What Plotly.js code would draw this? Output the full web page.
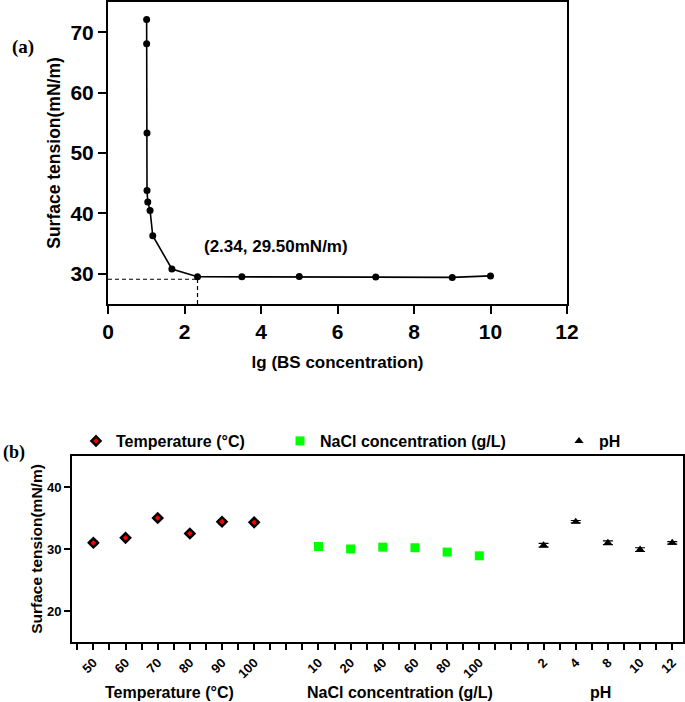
<!DOCTYPE html>
<html>
<head>
<meta charset="utf-8">
<script src="https://cdn.plot.ly/plotly-3.0.1.min.js"></script>
<style>html,body{margin:0;padding:0;background:#fff;}#chart{width:685px;height:702px;}</style>
</head>
<body>
<div id="chart"></div>
<script>
// ---- Panel (a) data ----
const lgConc = [1.01, 1.01, 1.02, 1.02, 1.04, 1.10, 1.17, 1.67, 2.34, 3.5, 5.0, 7.0, 9.0, 10.0];
const tensionA = [72.1, 68.1, 53.3, 43.8, 41.9, 40.5, 36.3, 30.8, 29.5, 29.5, 29.55, 29.45, 29.4, 29.65];
const cmcX = 2.34;
const cmcY = 29.5;
const cmcGuideY = 29.1;
const cmcLabel = "(2.34, 29.50mN/m)";

// ---- Panel (b) data ----
const tempLabels = ["50", "60", "70", "80", "90", "100"];
const tempValues = [31.0, 31.8, 35.0, 32.5, 34.4, 34.3];
const tempErr = [0.3, 0.2, 0.2, 0.2, 0.3, 0.3];

const naclLabels = ["10", "20", "40", "60", "80", "100"];
const naclValues = [30.4, 30.0, 30.3, 30.2, 29.5, 28.9];
const naclErr = [0.3, 0.2, 0.2, 0.2, 0.5, 0.2];

const phLabels = ["2", "4", "8", "10", "12"];
const phValues = [30.6, 34.4, 31.0, 29.9, 31.0];
const phErr = [0.3, 0.2, 0.3, 0.3, 0.2];

// slot layout on the category axis (one tick per slot)
const groupStart = {temp: 1, nacl: 15, ph: 29};
const slotStep = 2;
const nSlots = 38;
const pos = (start, arr) => arr.map((_, i) => start + i * slotStep);
const tempX = pos(groupStart.temp, tempLabels);
const naclX = pos(groupStart.nacl, naclLabels);
const phX = pos(groupStart.ph, phLabels);

const tickVals = [];
const tickText = [];
for (let i = 0; i < nSlots; i++) { tickVals.push(i); tickText.push(""); }
[[tempX, tempLabels], [naclX, naclLabels], [phX, phLabels]].forEach(([xs, ls]) => {
  xs.forEach((x, i) => { tickText[x] = ls[i]; });
});

const FONT = "Liberation Sans, Arial, sans-serif";
const SERIF = "Liberation Serif, Times New Roman, serif";
const W = 685, H = 702;
const px = v => v / W;
const py = v => 1 - v / H;
const bold = (size, fam) => ({family: fam || FONT, size: size, color: '#000', weight: 'bold'});
const note = (text, x, y, font) => ({text, xref: 'paper', yref: 'paper', x: px(x), y: py(y),
  xanchor: 'center', yanchor: 'middle', showarrow: false, font});

const traces = [
  {
    x: lgConc, y: tensionA, xaxis: 'x', yaxis: 'y', type: 'scatter', mode: 'lines+markers',
    line: {color: '#000', width: 1.6}, marker: {color: '#000', size: 7}, showlegend: false
  },
  {
    x: [0, cmcX], y: [cmcGuideY, cmcGuideY], xaxis: 'x', yaxis: 'y', type: 'scatter', mode: 'lines',
    line: {color: '#000', width: 1.2, dash: '4px,3px'}, showlegend: false, hoverinfo: 'skip'
  },
  {
    x: [cmcX, cmcX], y: [25, cmcY], xaxis: 'x', yaxis: 'y', type: 'scatter', mode: 'lines',
    line: {color: '#000', width: 1.2, dash: '4px,3px'}, showlegend: false, hoverinfo: 'skip'
  },
  {
    x: tempX, y: tempValues, xaxis: 'x2', yaxis: 'y2', type: 'scatter', mode: 'markers',
    name: 'Temperature (°C)', legend: 'legend',
    error_y: {type: 'data', array: tempErr, color: '#000', thickness: 1.2, width: 4},
    marker: {symbol: 'diamond', color: '#ff0000', size: 7, line: {color: '#000', width: 2.5}}
  },
  {
    x: naclX, y: naclValues, xaxis: 'x2', yaxis: 'y2', type: 'scatter', mode: 'markers',
    name: 'NaCl concentration (g/L)', legend: 'legend2',
    error_y: {type: 'data', array: naclErr, color: '#000', thickness: 1.2, width: 4},
    marker: {symbol: 'square', color: '#00ff00', size: 9, line: {color: '#00ff00', width: 0}}
  },
  {
    x: phX, y: phValues, xaxis: 'x2', yaxis: 'y2', type: 'scatter', mode: 'markers',
    name: 'pH', legend: 'legend3',
    error_y: {type: 'data', array: phErr, color: '#000', thickness: 1.2, width: 5},
    marker: {symbol: 'triangle-up', color: '#000', size: 8}
  }
];

const legendCommon = {
  orientation: 'h', yanchor: 'middle', xanchor: 'left', y: py(441),
  font: bold(16), bgcolor: 'rgba(0,0,0,0)', borderwidth: 0
};

const layout = {
  width: W, height: H,
  margin: {l: 0, r: 0, t: 0, b: 0},
  paper_bgcolor: '#fff', plot_bgcolor: '#fff',
  font: {family: FONT, color: '#000'},
  xaxis: {
    domain: [px(108), px(567)], anchor: 'y', range: [0, 12], tickvals: [0, 2, 4, 6, 8, 10, 12],
    showline: true, mirror: true, linecolor: '#000', linewidth: 2,
    ticks: 'outside', ticklen: 8, tickwidth: 2, tickcolor: '#000',
    showgrid: false, zeroline: false, automargin: false,
    tickfont: bold(21),
    title: {text: 'lg (BS concentration)', standoff: 14, font: bold(17)}
  },
  yaxis: {
    domain: [py(304), py(2)], anchor: 'x', range: [25, 75], tickvals: [30, 40, 50, 60, 70],
    showline: true, mirror: true, linecolor: '#000', linewidth: 2,
    ticks: 'outside', ticklen: 8, tickwidth: 2, tickcolor: '#000',
    showgrid: false, zeroline: false, automargin: false,
    tickfont: bold(21),
    title: {text: 'Surface tension(mN/m)', standoff: 5, font: bold(17.5)}
  },
  xaxis2: {
    domain: [px(72), px(683)], anchor: 'y2', range: [-0.33, 37.67],
    tickmode: 'array', tickvals: tickVals, ticktext: tickText, tickangle: -45,
    showline: true, mirror: true, linecolor: '#000', linewidth: 2,
    ticks: 'outside', ticklen: 6, tickwidth: 2, tickcolor: '#000',
    showgrid: false, zeroline: false, automargin: false,
    tickfont: bold(13)
  },
  yaxis2: {
    domain: [py(642), py(456)], anchor: 'x2', range: [15, 45], tickvals: [20, 30, 40],
    showline: true, mirror: true, linecolor: '#000', linewidth: 2,
    ticks: 'outside', ticklen: 6, tickwidth: 2, tickcolor: '#000',
    showgrid: false, zeroline: false, automargin: false,
    tickfont: bold(13),
    title: {text: 'Surface tension(mN/m)', standoff: 1, font: bold(15.5)}
  },
  legend: Object.assign({}, legendCommon, {x: px(76)}),
  legend2: Object.assign({}, legendCommon, {x: px(280)}),
  legend3: Object.assign({}, legendCommon, {x: px(559)}),
  annotations: [
    note('(a)', 23, 47, bold(19, SERIF)),
    note('(b)', 14, 452, bold(18, SERIF)),
    {text: cmcLabel, xref: 'x', yref: 'y', x: 4.39, y: 34.6, xanchor: 'center', yanchor: 'middle',
     showarrow: false, font: bold(17)},
    note('Temperature (°C)', 169, 692, bold(16)),
    note('NaCl concentration (g/L)', 400, 692, bold(16)),
    note('pH', 600, 692, bold(16))
  ]
};

Plotly.newPlot('chart', traces, layout, {displayModeBar: false, staticPlot: true});
</script>
</body>
</html>
